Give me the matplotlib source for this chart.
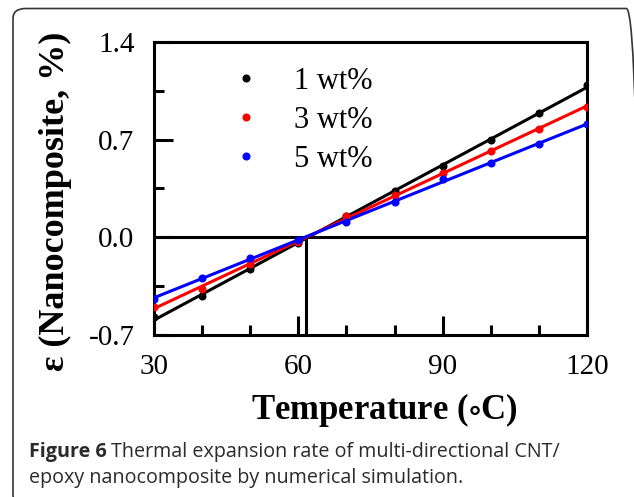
import numpy as np
import matplotlib
matplotlib.use("Agg")
import matplotlib.pyplot as plt
from matplotlib.patches import FancyBboxPatch
from matplotlib.ticker import MultipleLocator

# temperature (deg C) and strain (%)
temperature = [30, 40, 50, 60, 70, 80, 90, 100, 110, 120]
eps_1wt = [-0.57, -0.42, -0.23, -0.04, 0.15, 0.33, 0.51, 0.70, 0.89, 1.09]
eps_3wt = [-0.50, -0.37, -0.19, -0.03, 0.15, 0.30, 0.46, 0.62, 0.78, 0.935]
eps_5wt = [-0.44, -0.29, -0.15, -0.02, 0.11, 0.255, 0.42, 0.53, 0.67, 0.81]
labels = ["1 wt%", "3 wt%", "5 wt%"]
colors = ["black", "red", "blue"]
t_ref = 61.6  # vertical marker where curves cross zero

plt.rcParams["font.family"] = ["Liberation Serif", "DejaVu Serif"]
plt.rcParams["mathtext.fontset"] = "stix"
plt.rcParams["axes.unicode_minus"] = False

W, H = 634, 497
fig = plt.figure(figsize=(W / 100, H / 100), dpi=100)

# rounded frame around figure + caption (right/bottom run off the image)
frame = FancyBboxPatch((13 / W, (H - 505) / H), (639 - 13) / W, (505 - 8.5) / H,
                       boxstyle="round,pad=0,rounding_size=0.02",
                       transform=fig.transFigure, facecolor="none",
                       edgecolor="#333333", linewidth=1.2)
fig.add_artist(frame)

ax = fig.add_axes([154 / W, 1 - 335 / H, (587 - 154) / W, (335 - 42) / H])

series = [eps_1wt, eps_3wt, eps_5wt]
tt = np.array(temperature)
for y, c, lab in zip(series, colors, labels):
    k, b = np.polyfit(tt, y, 1)
    ax.plot([30, 120], [k * 30 + b, k * 120 + b], color=c, lw=2.2, zorder=3)
    ax.plot(tt, y, "o", color=c, ms=4.8, label=lab, zorder=4)

ax.axhline(0, color="black", lw=2.2, zorder=2)
ax.plot([t_ref, t_ref], [-0.7, 0], color="black", lw=2.2, zorder=2)

ax.set_xlim(30, 120)
ax.set_ylim(-0.7, 1.4)
ax.xaxis.set_major_locator(MultipleLocator(30))
ax.xaxis.set_minor_locator(MultipleLocator(10))
ax.yaxis.set_major_locator(MultipleLocator(0.7))
ax.yaxis.set_minor_locator(MultipleLocator(0.35))
ax.tick_params(which="both", direction="in", top=False, right=False,
               width=2.2, labelsize=21)
ax.tick_params(which="major", length=14)
ax.tick_params(which="minor", length=7)
ax.tick_params(axis="x", pad=14)
ax.tick_params(axis="y", pad=14)
for s in ax.spines.values():
    s.set_linewidth(2.2)

ax.set_xlabel("Temperature ($\\circ$C)", fontsize=25, fontweight="bold")
ax.xaxis.set_label_coords(0.532, -0.19)
ax.set_ylabel("ε (Nanocomposite, %)", fontsize=26, fontweight="bold")
ax.yaxis.set_label_coords(-0.19, 0.455)

ax.legend(loc="upper left", bbox_to_anchor=(0.178, 0.915), frameon=False,
          fontsize=22, handletextpad=1.05, labelspacing=0.33,
          handlelength=1.0, borderpad=0, borderaxespad=0)

cap_font = ["Open Sans", "DejaVu Sans"]
cap_size = 14.2
t1 = fig.text(29 / W, 1 - 452 / H, "Figure 6", fontsize=cap_size, fontweight="bold",
              family=cap_font, color="#2b2b2b", va="center")
fig.canvas.draw()
bb = t1.get_window_extent()
fig.text((bb.x1 + 4) / W, 1 - 452 / H,
         "Thermal expansion rate of multi-directional CNT/",
         fontsize=cap_size, family=cap_font, color="#2b2b2b", va="center")
fig.text(29 / W, 1 - 478 / H, "epoxy nanocomposite by numerical simulation.",
         fontsize=cap_size, family=cap_font, color="#2b2b2b", va="center")

fig.savefig("out.png", dpi=100)
